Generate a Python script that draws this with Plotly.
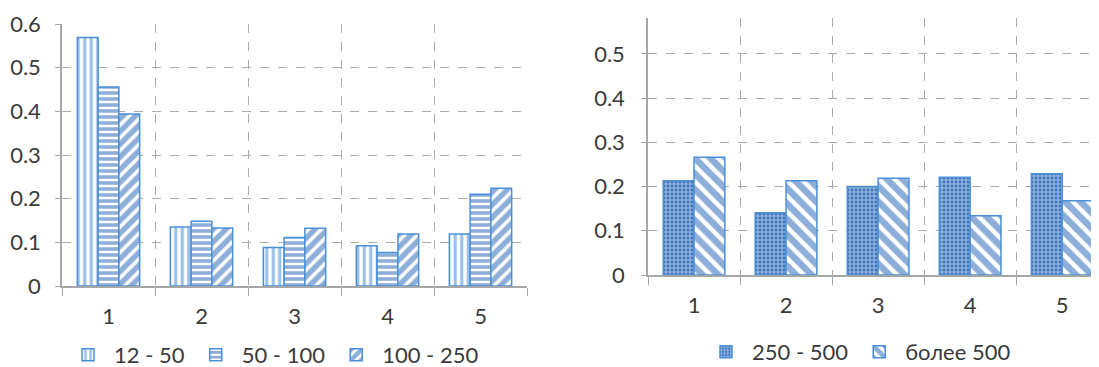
import plotly.graph_objects as go

categories = ["1", "2", "3", "4", "5"]

left_names = ["12 - 50", "50 - 100", "100 - 250"]
s_12_50 = [0.569, 0.135, 0.088, 0.092, 0.119]
s_50_100 = [0.456, 0.148, 0.111, 0.077, 0.210]
s_100_250 = [0.394, 0.133, 0.132, 0.119, 0.224]

right_names = ["250 - 500", "более 500"]
s_250_500 = [0.213, 0.141, 0.200, 0.221, 0.229]
s_500_plus = [0.266, 0.213, 0.219, 0.134, 0.168]

# the page body keeps its default 8px margin; figure sized to fit the window
OFF = 8
W, H = 1099 - OFF, 367 - OFF
BLUE = "#1a5db3"
LBLUE = "#3a84d4"
EDGE = "#4a90d8"
GRID = "#ababab"
AXIS = "#a6a6a6"
TXT = "#3a3a3a"
FONT = "Lato"
FS = 22

fig = go.Figure()

left_series = [s_12_50, s_50_100, s_100_250]
left_pat = [
    dict(shape="|", fgcolor=LBLUE, bgcolor="white", size=6.5, solidity=0.5),
    dict(shape="-", fgcolor=BLUE, bgcolor="white", size=6, solidity=0.6),
    dict(shape="/", fgcolor=BLUE, bgcolor="white", size=9, solidity=0.6),
]
for name, vals, pat in zip(left_names, left_series, left_pat):
    fig.add_trace(go.Bar(
        x=categories, y=vals, name=name, xaxis="x", yaxis="y",
        marker=dict(color="white", pattern=pat, line=dict(color=EDGE, width=1.5)),
        legend="legend",
    ))

right_series = [s_250_500, s_500_plus]
right_pat = [
    dict(shape=".", fgcolor="white", bgcolor=BLUE, size=4, solidity=0.75),
    dict(shape="\\", fgcolor=BLUE, bgcolor="white", size=11, solidity=0.6),
]
for name, vals, pat in zip(right_names, right_series, right_pat):
    fig.add_trace(go.Bar(
        x=categories, y=vals, name=name, xaxis="x2", yaxis="y2",
        marker=dict(color="white", pattern=pat, line=dict(color=EDGE, width=1.5)),
        legend="legend2",
    ))

def px_x(p):
    return min(1.0, (p - OFF) / W)

def px_y(p):
    return min(1.0, 1 - (p - OFF) / H)

xcommon = dict(
    type="category", tickson="boundaries", ticks="outside", ticklen=8,
    tickcolor=AXIS, showline=True, linecolor=AXIS, linewidth=1.5,
    showgrid=True, gridcolor=GRID, griddash="dash", gridwidth=1,
    tickfont=dict(family=FONT, size=FS, color=TXT), automargin=False,
    ticklabelstandoff=10,
)
ycommon = dict(
    dtick=0.1, tick0=0, ticks="outside", ticklen=5, tickcolor=AXIS,
    showline=True, linecolor=AXIS, linewidth=1.5,
    showgrid=True, gridcolor=GRID, griddash="dash", gridwidth=1,
    zeroline=False, tickfont=dict(family=FONT, size=FS, color=TXT),
    automargin=False,
)

fig.update_layout(
    width=W, height=H,
    margin=dict(l=0, r=0, t=0, b=0, autoexpand=False),
    paper_bgcolor="white", plot_bgcolor="white",
    barmode="group",
    bargap=0.33,
    showlegend=True,
    xaxis=dict(xcommon, domain=[px_x(62), px_x(527)], anchor="y", range=[-0.5, 4.5]),
    yaxis=dict(ycommon, domain=[px_y(286), px_y(24)], anchor="x", range=[0, 0.6],
               ticklabelstandoff=10),
    xaxis2=dict(xcommon, domain=[px_x(648), 1.0], anchor="y2", range=[-0.5, 4.40]),
    yaxis2=dict(ycommon, domain=[px_y(275), px_y(18)], anchor="x2", range=[0, 0.581],
                ticklabelstandoff=12),
    legend=dict(
        orientation="h", x=px_x(62), y=px_y(355), xanchor="left", yanchor="middle",
        itemwidth=42,
        font=dict(family=FONT, size=FS, color=TXT), bgcolor="rgba(0,0,0,0)",
    ),
    legend2=dict(
        orientation="h", x=px_x(700), y=px_y(352), xanchor="left", yanchor="middle",
        itemwidth=42,
        font=dict(family=FONT, size=FS, color=TXT), bgcolor="rgba(0,0,0,0)",
    ),
)

fig.write_html("out.html", config={"displayModeBar": False})
